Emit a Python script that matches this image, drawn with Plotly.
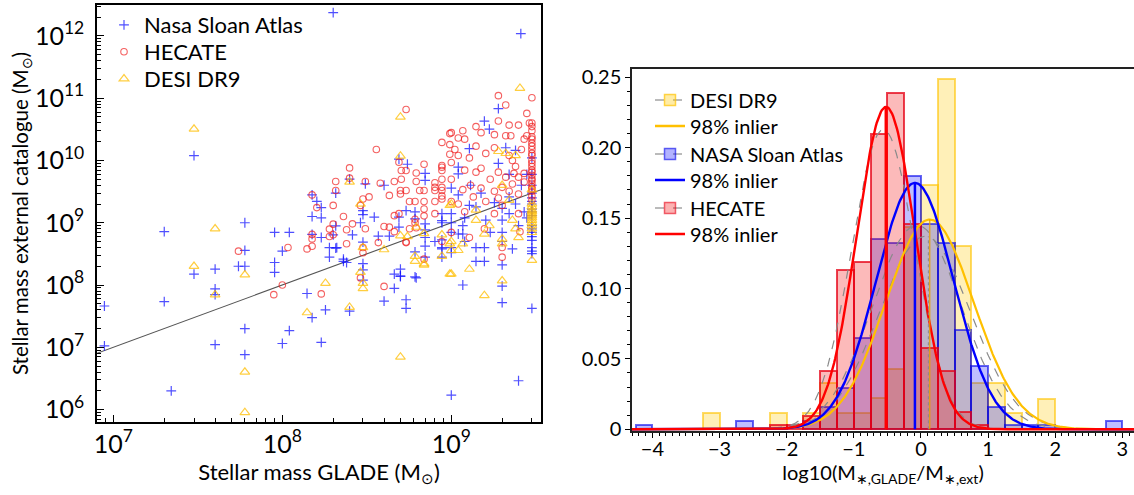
import numpy as np
import plotly.graph_objects as go

# ---------------- Left panel: scatter data (GLADE mass, external catalogue mass) ----------------
nsa_pts = [
    (8.85e6, 4.6e7), (8.85e6, 1.05e7), (2e7, 7.2e8), (2e7, 5.4e7), (2.2e7, 2e6), (3e7, 1.2e10), (3e7, 1.5e8),
    (4e7, 1.8e8), (4e7, 8.7e7), (4e7, 7e7), (4e7, 1.1e7), (6e7, 1e9), (6e7, 3.6e8), (6e7, 2e8), (5.5e7, 2e8),
    (6e7, 2e7), (6e7, 7.6e6), (9e7, 7e8), (9e7, 2.3e8), (9e7, 1.6e8), (1e8, 3.5e8), (1.1e8, 7e8), (1.1e8, 1.85e7),
    (1e8, 1.15e7), (1.4e8, 7.3e7), (1.5e8, 2.8e9), (1.5e8, 1.26e9), (1.5e8, 6.5e8), (1.5e8, 3e7), (1.6e8, 2.2e9),
    (1.7e8, 1.75e9), (1.7e8, 1.2e9), (1.7e8, 5.8e8), (1.7e8, 1.2e7), (1.8e8, 4e7),
    (2e8, 2.37e12), (2.58e9, 1.09e12), (2.5e9, 2.9e6), (1e9, 1.7e6), (3e9, 4.2e7), (2e9, 5.2e7), (1.17e9, 1e8),
    (5.4e8, 4.2e7), (5.4e8, 5.8e7), (4e8, 5.5e7), (4.6e8, 8.8e7), (5e8, 1.4e8), (4.6e8, 1.5e8), (1.57e9, 2.4e8),
    (1.4e9, 4e8), (3e9, 3.2e8), (3e9, 5.2e8), (2.5e8, 3.8e7), (1.9e8, 4e8), (1.9e8, 2.8e8), (2.1e8, 4e8),
    (3e8, 2.2e8), (3e8, 1.75e8), (3e8, 1.2e8), (2.3e8, 2.6e8), (2.4e8, 2.3e8),
    (2.07e8, 3e9), (2.07e8, 8.9e8), (2e8, 6.4e8), (2.07e8, 3.9e8), (2.3e8, 2.4e8), (2.5e8, 5e9), (2.6e8, 6.4e8),
    (2.9e8, 1e9), (3e8, 1.57e9), (3e8, 1.35e9), (3e8, 4.9e8), (3.1e8, 4.2e9), (4e8, 4e9), (3.5e8, 1.23e9),
    (3.7e8, 6.1e8), (4.3e8, 6.1e8), (5e8, 1.8e8), (5e8, 1.37e8), (4.9e8, 1.05e10), (5.5e8, 8.7e9), (4.9e8, 8.5e8),
    (4.9e8, 1.23e9), (5.4e8, 1.57e9), (6.1e8, 1.5e9), (6.1e8, 1.15e9), (6.1e8, 3.4e8), (6.1e8, 1.35e8),
    (6.2e8, 1.3e8), (7e8, 6.2e9), (7e8, 4.8e9), (7e8, 9.6e8), (7e8, 7.7e8), (7e8, 5.8e8), (7e8, 4.2e8),
    (7e8, 2.8e8), (8e8, 5e8), (8.8e8, 1.4e9), (8.8e8, 1.08e9), (8.8e8, 5.3e8), (8.8e8, 4e8), (8.8e8, 2.8e8),
    (1.9e9, 6.8e10), (1.57e9, 4.3e10), (1.68e9, 3.2e10), (1.28e9, 1.55e10), (2.1e9, 1.6e10), (2.4e9, 1.45e10),
    (1.1e9, 7.8e9), (1.1e9, 6.1e9), (1e9, 3.6e9), (1.28e9, 1.9e9), (1.8e9, 2.1e9), (3e9, 1.66e9),
    (8.8e8, 1e9), (8.8e8, 3.8e8), (1e9, 1.4e9), (1e9, 1e9), (1e9, 7e8), (1e9, 4e8), (1e9, 3.3e8), (1.1e9, 6.6e8),
    (1.17e9, 9e8), (1.17e9, 6.6e8), (1.4e9, 2.4e8), (1.57e9, 4e8), (2e9, 1.7e9), (2e9, 1.1e9), (2e9, 7e8),
    (2e9, 5e8), (2e9, 2.1e8), (2e9, 9.6e7), (2.3e9, 3.8e8), (3e9, 3.5e8), (3e9, 1.3e9), (3e9, 2.5e9), (3e9, 3e9),
    (3e9, 8e8), (3e9, 7e8), (2.6e9, 4e9), (2.8e9, 6e9), (1.3e9, 4e9), (1.5e9, 3e9), (2.2e9, 6e9), (1.2e9, 1.2e9),
    (1.6e9, 1.1e9), (2.5e9, 9e8), (3e9, 1.1e10), (1.4e9, 1.8e9), (2.2e9, 2.6e9), (2.7e9, 1.5e9), (3e9, 2e9),
    (1.2e9, 5e8), (1.7e9, 7e8), (2.4e9, 2e9), (3e9, 6e9), (1.1e9, 2.8e9), (1.9e9, 9e9),
    (3e9, 9e8), (3e9, 1.5e9), (3e9, 2.2e9), (3e9, 4e9), (3e9, 6e8), (3e9, 4e8), (2.8e9, 1.2e9), (2.2e9, 1.4e9),
]
hec_pts = [
    (5.5e7, 3.5e8), (8.9e7, 7e7), (1e8, 1e8), (1.08e8, 4e8), (1.4e8, 3.8e8), (1.5e8, 2.8e9), (1.6e8, 1.75e9),
    (1.5e8, 6.5e8), (1.5e8, 5.5e8), (1.5e8, 4.2e8), (1.7e8, 7.2e7),
    (5.4e8, 6.6e10), (3.6e8, 1.5e10), (2.5e8, 7.6e9), (2.07e8, 4.6e9), (2.07e8, 3.3e9), (2.5e8, 5.2e9),
    (2e8, 1.9e9), (3e8, 2.4e9), (3.26e8, 2.6e9), (3.1e8, 4.6e9), (3.8e8, 4.3e9), (4.3e8, 2.75e9), (2.3e8, 1.26e9),
    (2.6e8, 9.6e8), (1.9e8, 7.9e8), (2e8, 9.5e8), (1.9e8, 6e8), (2e8, 6.4e8), (2.4e8, 7.7e8), (2.4e8, 4.6e8),
    (3.1e8, 8e8), (2.9e8, 1.9e9), (3e8, 4e8), (3e8, 3.3e8), (2.9e8, 1.3e8), (4e8, 8.7e8), (4.3e8, 8.5e8),
    (3.7e8, 4.8e8), (4.6e8, 7.2e8), (4e8, 9.5e7), (4.6e8, 1.3e9), (4.6e8, 4.6e9), (4.9e8, 9.4e9), (5.06e8, 6.9e9),
    (5.06e8, 5e9), (5.4e8, 6.9e9), (5e8, 3.3e9), (5e8, 2.9e9), (5.4e8, 3.3e9), (4.9e8, 1.4e9), (5.4e8, 4.9e8),
    (5.66e8, 2.2e9), (6.1e8, 2.2e9), (6.5e8, 3.3e9), (6.2e8, 4.6e9), (6.2e8, 6.3e9), (6.9e8, 8.7e9), (6.9e8, 3.3e9),
    (6.9e8, 2.2e9), (6.9e8, 1.66e9), (6.9e8, 1.29e9), (6.1e8, 1.14e9), (6.1e8, 1e9), (6.2e8, 8.3e8), (5.66e8, 8e8),
    (5.4e8, 4.8e8), (6.9e8, 2.6e8), (8e8, 4.4e9), (8e8, 3.7e9), (8e8, 3.3e9), (8e8, 2.2e9), (8e8, 1.4e9),
    (8.8e8, 8.3e9), (8.8e8, 6.9e9), (8.8e8, 5e9), (8.8e8, 3.3e9), (8.8e8, 2.7e9), (9.8e8, 2.7e10), (9.8e8, 1.8e10),
    (9.8e8, 1.26e10),
    (3e9, 1.02e11), (1.9e9, 1.1e11), (2.1e9, 7.8e10), (2.8e9, 5.7e10), (1.9e9, 4.3e10), (2.5e9, 3.7e10),
    (2.2e9, 3.7e10), (1.17e9, 3e10), (1.4e9, 3.5e10), (1.5e9, 2.8e10), (1e9, 2.8e10), (2.1e9, 2.5e10),
    (2.25e9, 2.5e10), (2.8e9, 2.5e10), (3e9, 2.2e10), (3e9, 1.9e10), (1.8e9, 2.6e10), (1.1e9, 2.3e10),
    (1.2e9, 2.2e10), (8.8e8, 1.95e10), (1.4e9, 1.7e10), (1.8e9, 1.6e10), (1.1e9, 1.2e10), (1.28e9, 1.1e10),
    (1e9, 9.3e9), (8.8e8, 7.8e9), (1.5e9, 7.5e9), (1.4e9, 6.5e9), (1.9e9, 6.5e9), (2.1e9, 5.4e9), (2.35e9, 6.2e9),
    (2.5e9, 5.4e9), (2.7e9, 6.2e9), (3e9, 5.1e9), (3e9, 4.3e9), (8.8e8, 3.7e9), (1.17e9, 3.4e9), (1.5e9, 3.6e9),
    (1.8e9, 3.2e9), (2.2e9, 3.2e9), (2.5e9, 2.9e9), (8.8e8, 2.4e9), (1e9, 2.2e9), (1.1e9, 2e9), (2e9, 1.9e9),
    (2.5e9, 1.4e9), (3e9, 1.5e10), (3e9, 1.2e10), (3e9, 1e10), (3e9, 8e9), (3e9, 6.5e9), (3e9, 3.5e10),
    (3e9, 3e10), (3e9, 2.7e9), (3e9, 3.5e9), (8.8e8, 5e8), (1e9, 7e8), (1.28e9, 5.8e8), (1.57e9, 8e8),
    (1.8e9, 1.4e9), (2e9, 2.8e8), (2.55e9, 7.2e8), (2e9, 4e8), (1.2e9, 1.5e9), (1.3e9, 4e9), (1.6e9, 1.3e10),
    (2.3e9, 1e10), (2.6e9, 1.5e10), (1.7e9, 5e9), (2e9, 3.7e9), (1e9, 5e9), (2.7e9, 2.2e10), (2.4e9, 8e9),
    (1.2e9, 7e9), (1.6e9, 2.2e9), (2.2e9, 1.2e10), (2.9e9, 4e10), (1.35e9, 2.6e9), (1.05e9, 1.5e10),
    (3e9, 1.3e10), (3e9, 9e9), (3e9, 7e9), (3e9, 5.8e9), (3e9, 4.8e9), (3e9, 2.4e10), (3e9, 1.7e10),
    (3e9, 4e10), (3e9, 3.8e9), (3e9, 3.2e9), (3e9, 2.3e9), (2.7e9, 4.5e9), (2.3e9, 4.2e9), (1.9e9, 2.5e9),
]
desi_pts = [
    (3e7, 3.2e10), (3e7, 2e8), (4e7, 8e8), (4e7, 7e7), (6e7, 1.46e8), (6e7, 4e6), (6e7, 9e5), (1.4e8, 3.6e7),
    (1.8e8, 1.07e8),
    (5e8, 5e10), (5e8, 1.18e10), (2.5e8, 4.5e9), (2.9e8, 2e9), (2.9e8, 1.6e8), (3e8, 4e8), (3e8, 1.07e8),
    (3e8, 8.8e7), (2.5e8, 4.4e7), (4e8, 3.7e8), (5e8, 6.2e8), (5e8, 7e6), (5.5e8, 6e8), (6.1e8, 2.9e8),
    (6.1e8, 2.4e8), (6.2e8, 8.5e8), (6.9e8, 6.7e8), (6.9e8, 2.2e8), (6.9e8, 2.1e8), (8.8e8, 6.4e8), (8.8e8, 2.9e8),
    (9.8e8, 1.9e9), (9.8e8, 4.6e8), (9.8e8, 1.5e8),
    (2.55e9, 1.45e11), (1.9e9, 1.4e10), (2.1e9, 1.3e10), (2.4e9, 1.2e10), (2e9, 4e9), (2.2e9, 2.3e9), (1e9, 2e9),
    (3e9, 3.4e9), (3e9, 1.5e9), (3e9, 1.3e9),
    (1e9, 5e8), (1e9, 3.6e8), (1e9, 1.5e8), (1.1e9, 3.6e8), (1.17e9, 4.6e8), (1.28e9, 1.8e8), (1.4e9, 1.1e9),
    (1.57e9, 6.6e8), (1.57e9, 6.8e7), (1.68e9, 9e8), (2e9, 1.17e8), (2e9, 5.5e8), (2e9, 4.6e8), (2.3e9, 1.1e9),
    (2.5e9, 5.8e8), (2.4e9, 8e8), (3e9, 2.5e8), (3e9, 1.8e9), (3e9, 1.2e9), (3e9, 1e9), (3e9, 8e8), (3e9, 7e8),
    (3e9, 2e9), (1.4e9, 1.6e9), (3e9, 1.6e9), (3e9, 1.1e9), (3e9, 9e8), (3e9, 1.4e9),
]
nsa_glade = [p[0] for p in nsa_pts]
nsa_ext = [p[1] for p in nsa_pts]
hec_glade = [p[0] for p in hec_pts]
hec_ext = [p[1] for p in hec_pts]
desi_glade = [p[0] for p in desi_pts]
desi_ext = [p[1] for p in desi_pts]
one_to_one = [8e6, 3.4e9]

# ---------------- Right panel: histograms (bin left edge, fraction) ----------------
bin_width = 0.25
desi_edges = [-3.25, -2.25, -1.75, -1.5, -1.25, -1.0, -0.75, -0.5, -0.25, 0.0, 0.25, 0.5, 0.75, 1.0, 1.25, 1.75]
desi_frac = [0.0114, 0.0114, 0.0114, 0.0327, 0.0114, 0.0114, 0.022, 0.043, 0.144, 0.1735, 0.249, 0.13,
             0.0327, 0.0327, 0.0114, 0.0215]
nsa_edges = [-4.25, -2.75, -1.75, -1.5, -1.25, -1.0, -0.75, -0.5, -0.25, 0.0, 0.25, 0.5, 0.75, 1.0, 1.25,
             1.5, 1.75, 2.75]
nsa_frac = [0.003, 0.006, 0.006, 0.016, 0.029, 0.0646, 0.135, 0.132, 0.180, 0.1456, 0.132, 0.0705, 0.045,
            0.016, 0.003, 0.003, 0.003, 0.006]
hec_edges = [-2.25, -2.0, -1.75, -1.5, -1.25, -1.0, -0.75, -0.5, -0.25, 0.0, 0.25, 0.5, 0.75]
hec_frac = [0.003, 0.003, 0.0095, 0.0417, 0.113, 0.119, 0.21, 0.2386, 0.1456, 0.0575, 0.0416, 0.0125, 0.003]

# Gaussian fits: (mean, sigma, peak)
desi_inlier = (0.13, 0.655, 0.149)
nsa_inlier = (-0.09, 0.575, 0.175)
hec_inlier = (-0.52, 0.435, 0.229)
desi_all = (0.06, 0.68, 0.137)
nsa_all = (-0.06, 0.66, 0.145)
hec_all = (-0.56, 0.47, 0.213)

W, H = 1134, 495
FONT = "Lato"

fig = go.Figure()

# ---- left panel ----
fig.add_trace(go.Scatter(x=one_to_one, y=one_to_one, mode="lines", line=dict(color="#555555", width=1.1),
                         showlegend=False, xaxis="x", yaxis="y", hoverinfo="skip"))
fig.add_trace(go.Scatter(x=nsa_glade, y=nsa_ext, mode="markers", name="Nasa Sloan Atlas",
                         marker=dict(symbol="cross-thin", size=7, color="rgba(20,20,255,0.75)",
                                     line=dict(width=1.2, color="rgba(20,20,255,0.75)")),
                         xaxis="x", yaxis="y", legend="legend"))
fig.add_trace(go.Scatter(x=hec_glade, y=hec_ext, mode="markers", name="HECATE",
                         marker=dict(symbol="circle-open", size=6.5, color="rgba(240,30,30,0.7)",
                                     line=dict(width=1.1)),
                         xaxis="x", yaxis="y", legend="legend2"))
fig.add_trace(go.Scatter(x=desi_glade, y=desi_ext, mode="markers", name="DESI DR9",
                         marker=dict(symbol="triangle-up-open", size=8.5, color="rgba(255,190,0,0.75)",
                                     line=dict(width=1.2)),
                         xaxis="x", yaxis="y", legend="legend3"))

# ---- right panel ----
hist_specs = [
    (desi_edges, desi_frac, "rgba(255,200,0,0.28)", "rgba(255,195,0,0.6)"),
    (nsa_edges, nsa_frac, "rgba(0,0,255,0.25)", "rgba(0,0,235,0.6)"),
    (hec_edges, hec_frac, "rgba(245,0,0,0.27)", "rgba(230,0,20,0.75)"),
]
for edges, frac, fill, edge in hist_specs:
    fig.add_trace(go.Bar(x=[e + bin_width / 2 for e in edges], y=frac, width=bin_width,
                         marker=dict(color=fill, line=dict(color=edge, width=2)),
                         showlegend=False, xaxis="x2", yaxis="y2", hoverinfo="skip"))

xg = np.linspace(-4.35, 3.2, 500)


def gauss(p):
    mu, s, pk = p
    return pk * np.exp(-0.5 * ((xg - mu) / s) ** 2)


for p in (desi_all, nsa_all, hec_all):
    fig.add_trace(go.Scatter(x=xg, y=gauss(p), mode="lines", line=dict(color="#8a8a8a", dash="dash", width=1.2),
                             showlegend=False, xaxis="x2", yaxis="y2", hoverinfo="skip"))

for p, col, w in ((desi_inlier, "#FFC000", 2.2), (nsa_inlier, "#0000FF", 2.4), (hec_inlier, "#FF0000", 2.4)):
    fig.add_trace(go.Scatter(x=xg, y=gauss(p), mode="lines", line=dict(color=col, width=w),
                             showlegend=False, xaxis="x2", yaxis="y2", hoverinfo="skip"))

# mean lines
fig.add_trace(go.Scatter(x=[desi_inlier[0]] * 2, y=[0, desi_inlier[2]], mode="lines",
                         line=dict(color="rgba(230,160,0,0.8)", width=1.5), showlegend=False,
                         xaxis="x2", yaxis="y2", hoverinfo="skip"))
fig.add_trace(go.Scatter(x=[desi_inlier[0] - 0.02] * 2, y=[0, desi_all[2]], mode="lines",
                         line=dict(color="#888888", width=1, dash="dot"), showlegend=False,
                         xaxis="x2", yaxis="y2", hoverinfo="skip"))
fig.add_trace(go.Scatter(x=[nsa_inlier[0]] * 2, y=[0, nsa_inlier[2]], mode="lines",
                         line=dict(color="#0000FF", width=2.5), showlegend=False,
                         xaxis="x2", yaxis="y2", hoverinfo="skip"))
fig.add_trace(go.Scatter(x=[hec_inlier[0]] * 2, y=[0, hec_inlier[2]], mode="lines",
                         line=dict(color="#FF0000", width=3), showlegend=False,
                         xaxis="x2", yaxis="y2", hoverinfo="skip"))

# legend entries for right panel (each in its own legend box for exact row spacing)
leg_items = [
    ("DESI DR9", "rgba(255,200,0,0.35)", "rgba(255,195,0,0.7)", None),
    ("98% inlier", None, None, "#FFC000"),
    ("NASA Sloan Atlas", "rgba(0,0,255,0.3)", "rgba(0,0,235,0.6)", None),
    ("98% inlier", None, None, "#0000FF"),
    ("HECATE", "rgba(245,0,0,0.3)", "rgba(230,0,20,0.6)", None),
    ("98% inlier", None, None, "#FF0000"),
]
for i, (name, fill, edge, lc) in enumerate(leg_items):
    lg = "legend%d" % (i + 4)
    if lc is None:
        fig.add_trace(go.Scatter(x=[None], y=[None], mode="lines+markers", name=name,
                                 line=dict(color="#777777", dash="dash", width=1),
                                 marker=dict(symbol="square", size=11, color=fill, line=dict(color=edge, width=1.5)),
                                 xaxis="x2", yaxis="y2", legend=lg))
    else:
        fig.add_trace(go.Scatter(x=[None], y=[None], mode="lines", name=name,
                                 line=dict(color=lc, width=2.4),
                                 xaxis="x2", yaxis="y2", legend=lg))

axis_font = dict(family=FONT, size=20, color="black")


def leg(xpx, ypx, size):
    return dict(x=xpx / W, y=1 - ypx / H, xanchor="left", yanchor="middle", bgcolor="rgba(0,0,0,0)",
                font=dict(family=FONT, size=size), itemwidth=30, borderwidth=0)


left_rows = [25, 52, 79]
right_rows = [100, 126, 154, 180, 208, 234]
legends = {}
for i, yy in enumerate(left_rows):
    legends["legend" if i == 0 else "legend%d" % (i + 1)] = leg(104, yy, 22)
for i, yy in enumerate(right_rows):
    legends["legend%d" % (i + 4)] = leg(650, yy, 20)

fig.update_layout(
    template="none",
    width=W, height=H,
    margin=dict(l=0, r=0, t=0, b=0, autoexpand=False),
    paper_bgcolor="white", plot_bgcolor="white",
    font=dict(family=FONT, size=20, color="black"),
    barmode="overlay",
    bargap=0,
    xaxis=dict(domain=[97 / W, 541 / W], anchor="y", type="log", range=[6.903, 9.531], automargin=False,
               dtick=1, exponentformat="power", showline=True, linecolor="black", linewidth=1.5, mirror=True,
               ticks="inside", ticklen=7, tickwidth=1.2, tickcolor="black",
               minor=dict(ticks="inside", ticklen=4, dtick="D1", tickcolor="black", showgrid=False),
               showgrid=False, zeroline=False, tickfont=axis_font,
               title=dict(text="Stellar mass GLADE (M<sub>⊙</sub>)", font=dict(family=FONT, size=22), standoff=2)),
    yaxis=dict(domain=[1 - 422 / H, 1 - 5 / H], anchor="x", type="log", range=[5.80, 12.497], automargin=False,
               dtick=1, exponentformat="power", showline=True, linecolor="black", linewidth=1.5, mirror=True,
               ticks="inside", ticklen=7, tickwidth=1.2, tickcolor="black",
               minor=dict(ticks="inside", ticklen=4, dtick="D1", tickcolor="black", showgrid=False),
               showgrid=False, zeroline=False, tickfont=axis_font, ticklabelstandoff=7,
               title=dict(text="Stellar mass external catalogue (M<sub>⊙</sub>)",
                          font=dict(family=FONT, size=20.5), standoff=1)),
    xaxis2=dict(domain=[632 / W, 1.0], anchor="y2", range=[-4.304, 3.173], dtick=1, tick0=0, automargin=False,
                showline=True, linecolor="#222222", linewidth=1.5, mirror=True,
                ticks="outside", ticklen=5, tickwidth=1.2, tickcolor="black",
                minor=dict(ticks="outside", ticklen=3, dtick=0.1, tick0=0, tickcolor="black", showgrid=False),
                showgrid=False, zeroline=False, tickfont=dict(family=FONT, size=20), ticklabelstandoff=-6,
                title=dict(text="log10(M<sub>∗,GLADE</sub>/M<sub>∗,ext</sub>)",
                           font=dict(family=FONT, size=20), standoff=2)),
    yaxis2=dict(domain=[1 - 431 / H, 1 - 69 / H], anchor="x2", range=[-0.0012, 0.2559], automargin=False,
                tickmode="array", tickvals=[0, 0.05, 0.10, 0.15, 0.20, 0.25],
                ticktext=["0", "0.05", "0.10", "0.15", "0.20", "0.25"],
                showline=True, linecolor="#222222", linewidth=1.5, mirror=False,
                ticks="outside", ticklen=5, tickwidth=1.2, tickcolor="black",
                minor=dict(tickmode="linear", ticks="outside", ticklen=3, dtick=0.01, tick0=0,
                           tickcolor="black", showgrid=False),
                showgrid=False, zeroline=False, tickfont=dict(family=FONT, size=20)),
    **legends,
)

fig.write_html("out.html", config={"displayModeBar": False},
               post_script="document.body.style.margin='0px';document.body.style.padding='0px';")
